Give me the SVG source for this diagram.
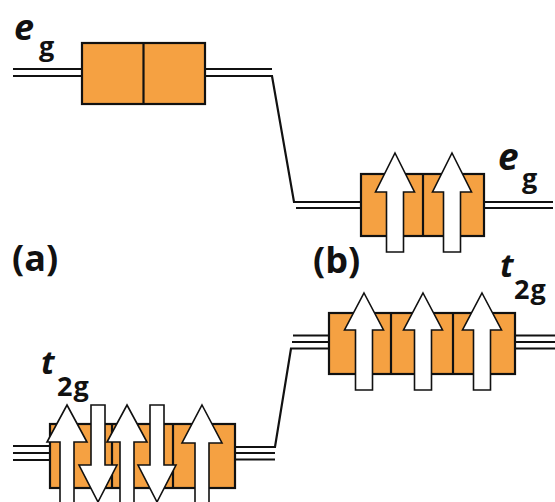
<svg xmlns="http://www.w3.org/2000/svg" width="555" height="502" viewBox="0 0 555 502">
<style>
.box{fill:#F5A142;stroke:#111;stroke-width:2.2}
.div{stroke:#111;stroke-width:2.2}
.ln{fill:none;stroke:#111;stroke-width:2.2}
.arr{fill:#fff;stroke:#111;stroke-width:1.6;stroke-linejoin:miter}
.t{font-family:"Open Sans","Noto Sans",sans-serif;font-weight:bold;fill:#111}
.it{font-style:italic}
.sub{font-size:27px;letter-spacing:1px}
</style>
<rect width="555" height="502" fill="#fff"/>
<g id="connectors">
<line class="ln" x1="13" y1="69" x2="82" y2="69"/>
<line class="ln" x1="13" y1="76" x2="82" y2="76"/>
<line class="ln" x1="205" y1="69" x2="272" y2="69"/>
<polyline class="ln" points="205,76 272,76 294,202 361,202"/>
<line class="ln" x1="296" y1="208" x2="361" y2="208"/>
<line class="ln" x1="484" y1="202" x2="553" y2="202"/>
<line class="ln" x1="484" y1="208" x2="553" y2="208"/>
<line class="ln" x1="13" y1="446" x2="50" y2="446"/>
<line class="ln" x1="13" y1="453" x2="50" y2="453"/>
<line class="ln" x1="13" y1="460" x2="50" y2="460"/>
<polyline class="ln" points="235,447 275,447 291,348.5 329,348.5"/>
<line class="ln" x1="235" y1="453" x2="275" y2="453"/>
<line class="ln" x1="235" y1="459.5" x2="275" y2="459.5"/>
<line class="ln" x1="293" y1="335.5" x2="329" y2="335.5"/>
<line class="ln" x1="292" y1="342" x2="329" y2="342"/>
<line class="ln" x1="515" y1="335.5" x2="555" y2="335.5"/>
<line class="ln" x1="515" y1="342" x2="555" y2="342"/>
<line class="ln" x1="515" y1="348.5" x2="555" y2="348.5"/>
</g>
<g id="eg-a">
<rect class="box" x="82" y="43" width="123" height="61"/>
<line class="div" x1="143.5" y1="43" x2="143.5" y2="104"/>
<text class="t it" x="14" y="40" font-size="36">e</text>
<text class="t sub" x="39" y="56">g</text>
</g>
<g id="eg-b">
<rect class="box" x="361" y="174" width="123" height="62"/>
<line class="div" x1="423" y1="174" x2="423" y2="236"/>
<path class="arr" d="M395,153 L414.5,192 L403.5,192 L403.5,252 L386.5,252 L386.5,192 L375.5,192 Z"/>
<path class="arr" d="M452,153 L471.5,192 L460.5,192 L460.5,252 L443.5,252 L443.5,192 L432.5,192 Z"/>
<text class="t it" x="498" y="170" font-size="37">e</text>
<text class="t sub" x="522" y="188">g</text>
</g>
<g id="t2g-b">
<rect class="box" x="329" y="313" width="186" height="61"/>
<line class="div" x1="391" y1="313" x2="391" y2="374"/>
<line class="div" x1="453" y1="313" x2="453" y2="374"/>
<path class="arr" d="M364,293 L383.5,330 L372.5,330 L372.5,390 L355.5,390 L355.5,330 L344.5,330 Z"/>
<path class="arr" d="M423,293 L442.5,330 L431.5,330 L431.5,390 L414.5,390 L414.5,330 L403.5,330 Z"/>
<path class="arr" d="M482,293 L501.5,330 L490.5,330 L490.5,390 L473.5,390 L473.5,330 L462.5,330 Z"/>
<text class="t it" x="500" y="277" font-size="33">t</text>
<text class="t sub" x="514" y="299">2g</text>
</g>
<g id="t2g-a">
<rect class="box" x="50" y="424" width="185" height="64"/>
<line class="div" x1="112" y1="424" x2="112" y2="488"/>
<line class="div" x1="173" y1="424" x2="173" y2="488"/>
<path class="arr" d="M67,405 L87,442 L74,442 L74,504 L60,504 L60,442 L47,442 Z"/>
<path class="arr" d="M98,502 L117,465 L105,465 L105,405 L91,405 L91,465 L79,465 Z"/>
<path class="arr" d="M127,405 L147,442 L134,442 L134,504 L120,504 L120,442 L107,442 Z"/>
<path class="arr" d="M157,502 L176,465 L164,465 L164,405 L150,405 L150,465 L138,465 Z"/>
<path class="arr" d="M202,405 L222,443 L209,443 L209,504 L195,504 L195,443 L182,443 Z"/>
<text class="t it" x="41" y="374" font-size="33">t</text>
<text class="t sub" x="57" y="396">2g</text>
</g>
<g id="labels">
<text class="t" x="12" y="271" font-size="36">(a)</text>
<text class="t" x="313" y="273" font-size="36">(b)</text>
</g>
</svg>
